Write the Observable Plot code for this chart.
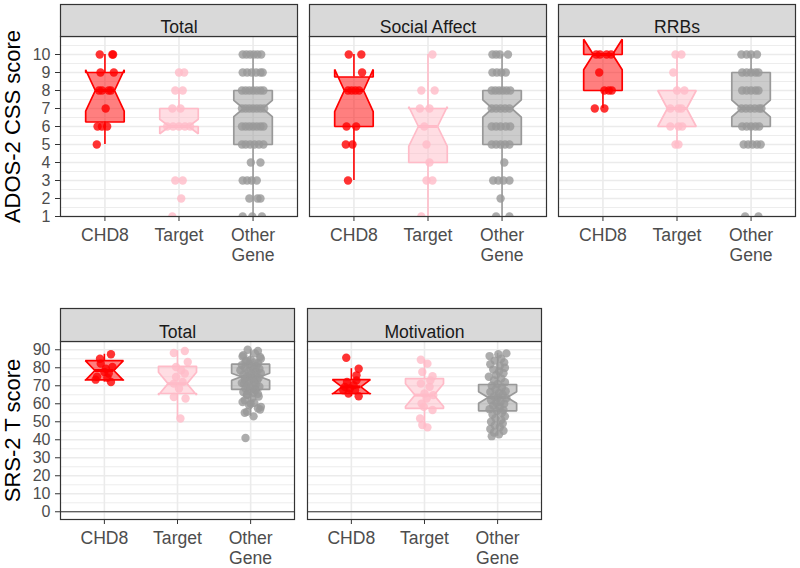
<!DOCTYPE html>
<html>
<head>
<meta charset="utf-8">
<script src="https://cdn.jsdelivr.net/npm/d3@7"></script>
<script src="https://cdn.jsdelivr.net/npm/@observablehq/plot@0.6"></script>
<style>
html,body{margin:0;padding:0;background:#fff;width:800px;height:568px;overflow:hidden;}
#row1{position:absolute;left:0;top:0;}
#row2{position:absolute;left:0;top:290px;}
svg text{font-family:"Liberation Sans",Arial,Helvetica,sans-serif;}
g[aria-label="x-axis tick label"] text, g[aria-label="y-axis tick label"] text{fill:#4D4D4D;}
</style>
</head>
<body>
<div id="row1"></div>
<div id="row2"></div>
<script>
// ---------- categories & colours ----------
const groups = ["CHD8", "Target", "Other Gene"];
const groupLabels = ["CHD8", "Target", "Other\nGene"];
const groupColors = ["#FF0000", "#FFBBC8", "#999999"];

// ---------- ADOS-2 CSS (top row) ----------
const adosPanels = ["Total", "Social Affect", "RRBs"];
const adosTicks = [1, 2, 3, 4, 5, 6, 7, 8, 9, 10];
const adosMinor = [1.5, 2.5, 3.5, 4.5, 5.5, 6.5, 7.5, 8.5, 9.5, 10.5];
// box statistics, order: panel x group
const adosLow   = [5, 6, 1,     3, 1, 1,     7, 5, 5];
const adosQ1    = [6.25, 6, 5,  6, 4, 5,     8, 6, 6];
const adosMed   = [8, 6, 7,     8, 6, 7,     10, 7, 7];
const adosQ3    = [9, 7, 8,     8.75, 7, 8,  10, 8, 9];
const adosHigh  = [10, 8, 10,   10, 10, 10,  10, 10, 10];
const adosNotch = [1.15, 0.4, 0.45,  1.17, 1.1, 0.48,  0.85, 1.0, 0.47];

// points: [score, horizontal jitter in category units]
const adosTotalCHD8 = [[10,-0.07],[10,0.10],[10,0.11],[9,-0.06],[9,0.12],[8,-0.08],[8,-0.04],[8,0.05],[8,0.08],[7,0.01],[6,-0.10],[6,-0.04],[6,0.03],[5,-0.11]];
const adosTotalTarget = [[9,0],[9,0.07],[8,-0.05],[8,0.05],[7,-0.09],[7,0.02],[6,-0.16],[6,-0.08],[6,0],[6,0.08],[6,0.15],[3,-0.05],[3,0.05],[2,0.03],[1,-0.09]];
const adosTotalOther = [
[10,-0.14],[10,-0.09],[10,-0.04],[10,0.01],[10,0.06],[10,0.11],
[9,-0.14],[9,-0.08],[9,-0.02],[9,0.04],[9,0.10],[9,0.13],
[8,-0.15],[8,-0.10],[8,-0.05],[8,0],[8,0.05],[8,0.10],[8,0.14],
[7,-0.15],[7,-0.10],[7,-0.05],[7,0],[7,0.05],[7,0.10],[7,0.15],
[6,-0.15],[6,-0.10],[6,-0.05],[6,0],[6,0.05],[6,0.10],[6,0.14],
[5,-0.15],[5,-0.10],[5,-0.04],[5,0.02],[5,0.08],[5,0.14],
[4,-0.03],[4,0.10],
[3,-0.14],[3,-0.08],[3,-0.02],[3,0.05],
[2,-0.05],[2,0.06],[2,0.10],
[1,-0.14],[1,-0.01],[1,0.12]];
const adosSocialCHD8 = [[10,-0.07],[10,0.10],[9,0.11],[8,-0.08],[8,-0.03],[8,0.02],[8,0.07],[6,-0.10],[6,0.03],[5,-0.11],[5,-0.02],[3,-0.08]];
const adosSocialTarget = [[10,0.06],[8,-0.09],[8,0.09],[7,-0.11],[7,0.02],[6,-0.05],[5,-0.02],[4,0.02],[3,-0.02],[3,0.06],[1,-0.09]];
const adosSocialOther = [
[10,-0.13],[10,-0.08],[10,-0.03],[10,0.08],
[9,-0.13],[9,-0.07],[9,-0.01],[9,0.05],
[8,-0.14],[8,-0.09],[8,-0.04],[8,0.01],[8,0.06],[8,0.11],
[7,-0.14],[7,-0.08],[7,-0.02],[7,0.04],[7,0.10],
[6,-0.14],[6,-0.08],[6,-0.02],[6,0.05],[6,0.11],
[5,-0.14],[5,-0.08],[5,-0.02],[5,0.04],[5,0.10],
[4,0.03],
[3,-0.12],[3,-0.05],[3,0.02],[3,0.10],
[2,-0.02],
[1,-0.08],[1,0.10]];
const adosRRBsCHD8 = [[10,-0.09],[10,-0.04],[10,0.05],[10,0.11],[9,-0.05],[8,0.02],[8,0.08],[8,0.12],[7,-0.11],[7,0.02]];
const adosRRBsTarget = [[10,-0.02],[10,0.06],[9,-0.05],[8,0],[8,0.10],[7,-0.09],[7,0.02],[7,0.06],[6,-0.09],[6,0.02],[6,0.07],[5,-0.02],[5,0.02]];
const adosRRBsOther = [
[10,-0.13],[10,-0.06],[10,0],[10,0.08],
[9,-0.12],[9,-0.06],[9,0],[9,0.06],[9,0.10],
[8,-0.12],[8,-0.06],[8,0],[8,0.06],[8,0.10],
[7,-0.13],[7,-0.07],[7,-0.01],[7,0.05],[7,0.11],[7,0.14],
[6,-0.12],[6,-0.06],[6,0],[6,0.06],[6,0.11],
[5,-0.10],[5,-0.04],[5,0.02],[5,0.08],[5,0.13],
[1,-0.08],[1,0.10]];

// ---------- SRS-2 T (bottom row) ----------
const srsPanels = ["Total", "Motivation"];
const srsTicks = [0, 10, 20, 30, 40, 50, 60, 70, 80, 90];
const srsMinor = [5, 15, 25, 35, 45, 55, 65, 75, 85];
const srsLow   = [72, 52, 53,     64, 47, 42];
const srsQ1    = [73.3, 65.7, 68,  65.7, 57.4, 56.1];
const srsMed   = [78.5, 71.2, 75,  69.4, 64.8, 63.5];
const srsQ3    = [84, 80.8, 82,    73.4, 74, 70.7];
const srsHigh  = [87.5, 89.5, 90,  79.5, 84.5, 88];
const srsNotch = [5.5, 6.3, 2.0,   4.0, 6.3, 3.2];

const srsTotalCHD8 = [[85,-0.06],[87.5,0.09],[75,-0.10],[72.1,0.09],[77.7,0],[73.4,-0.12],[80.4,0.11],[79.5,0.02],[82.3,-0.05],[76.8,0.06],[74.5,0.04]];
const srsTotalTarget = [[88.2,-0.05],[89.3,0.10],[80.4,-0.02],[83.2,0.14],[76.8,0.10],[71.2,-0.05],[68.5,0.02],[72.1,0.07],[63.8,-0.05],[62.9,0.11],[51.8,0.04],[74.9,-0.02],[78.6,0.05]];
const srsTotalOther = [[90,-0.04],[89.3,0.10],[88,0.06],[87,-0.10],[86.3,-0.11],[86,0.13],[85,0.14],[84.5,0],[84,-0.06],[83.2,-0.07],[83,0.05],[82.5,0.10],[82,-0.02],[81.5,-0.12],[81,0.08],[80.5,0.02],[80,-0.08],[79.5,0.12],[79,0.04],[78.6,-0.14],[78,-0.03],[77.5,0.08],[77,0.14],[76.7,0],[76,-0.10],[75.5,0.06],[75,-0.05],[74.5,0.11],[74,0.02],[73.5,-0.08],[73,0.09],[72.5,-0.02],[72,0.05],[71.5,-0.12],[71.2,-0.09],[70.5,0.07],[70,-0.04],[69.5,0.12],[69,0],[68.5,-0.07],[68,0.06],[67.5,0.07],[67,-0.02],[66.5,-0.10],[66,0.04],[65.5,0.10],[65,-0.05],[64.8,-0.05],[64,0.11],[63,0.02],[62,-0.08],[61,-0.11],[60.5,0.05],[60,0],[59.2,-0.02],[58.3,0.14],[57.5,0.10],[56.8,0.13],[55.5,-0.05],[55,-0.08],[53,0.04],[41,-0.07]];
const srsMotivCHD8 = [[85.6,-0.07],[79.5,0.10],[75.8,0.07],[72.1,-0.06],[70.3,0.03],[65.7,-0.04],[64.2,0.10],[67.5,-0.11],[67.5,0.05],[68.5,-0.02],[73,0.07],[69.4,-0.09]];
const srsMotivTarget = [[84.5,-0.05],[82.3,0.04],[77.7,-0.03],[75.3,0.11],[71.2,-0.05],[69.4,0.07],[62.9,0.03],[64.8,0.12],[60.1,-0.04],[56.5,0.11],[51.8,-0.06],[46.9,0.04],[48.2,-0.03],[65.7,0],[73,0.08],[58.3,-0.01]];
const srsMotivOther = [[88,0.12],[87.5,0.01],[86.5,-0.11],[85,0.05],[84,-0.04],[83,0.09],[82,-0.10],[81,0.03],[80,0.10],[79,-0.06],[78,0.02],[77,0.08],[76,-0.02],[75,-0.12],[74,0.05],[73,-0.05],[72,0.10],[71,0],[70,-0.08],[69,0.06],[68,-0.03],[67,0.11],[66.5,-0.10],[66,0.02],[65,0.07],[64,-0.05],[63.5,0],[63,0.12],[62,-0.09],[61,0.04],[60.5,-0.02],[60,0.09],[59,-0.06],[58,0.03],[57,-0.11],[56.5,0.08],[56,-0.01],[55,0.06],[54,-0.07],[53,0.10],[52,-0.03],[51,0.05],[50,-0.09],[49,0.07],[48,-0.04],[47,0.03],[46,-0.10],[45,0.08],[44,-0.05],[43,0.02],[42,-0.08]];

// ---------- helpers ----------
const HW = 0.26; // half box width in category units

function makeBoxes(panels, lo, q1, med, q3, hi, notch) {
  const out = [];
  panels.forEach((p, pi) => groups.forEach((g, gi) => {
    const k = pi * groups.length + gi;
    out.push({panel: p, group: g, gx: gi + 1, lo: lo[k], q1: q1[k], med: med[k], q3: q3[k], hi: hi[k], notch: notch[k]});
  }));
  return out;
}
function notchPolys(boxes) {
  return boxes.flatMap(b => {
    const c = b.gx, w = HW, nl = b.med - b.notch, nh = b.med + b.notch;
    const pts = [[c-w,b.q1],[c-w,nl],[c-w/2,b.med],[c-w,nh],[c-w,b.q3],[c+w,b.q3],[c+w,nh],[c+w/2,b.med],[c+w,nl],[c+w,b.q1]];
    return pts.map(([x, y]) => ({panel: b.panel, group: b.group, key: b.panel + "|" + b.group, x, y}));
  });
}
function makePoints(table) {
  return table.flatMap(([panel, group, arr]) => arr.map(([v, dx]) => ({panel, group, gx: groups.indexOf(group) + 1 + dx, v})));
}

function buildRow(o) {
  const plotH = o.height - o.marginTop - o.marginBottom;
  const boxes = o.boxes;
  const marks = [
    Plot.ruleY(o.minor, {stroke: "#EBEBEB", strokeWidth: 0.9}),
    Plot.ruleY(o.ticks, {stroke: "#EBEBEB", strokeWidth: 1.6}),
    Plot.ruleX([1, 2, 3], {stroke: "#EBEBEB", strokeWidth: 1.6})
  ];
  if (o.zeroLine) marks.push(Plot.ruleY([0], {stroke: "#333333", strokeWidth: 1.2}));
  marks.push(
    Plot.ruleX(boxes, {fx: "panel", x: "gx", y1: "lo", y2: "q1", stroke: "group", strokeWidth: 1.6, clip: true}),
    Plot.ruleX(boxes, {fx: "panel", x: "gx", y1: "q3", y2: "hi", stroke: "group", strokeWidth: 1.6, clip: true}),
    Plot.line(notchPolys(boxes), {fx: "panel", x: "x", y: "y", z: "key", curve: "linear-closed", fill: "group", fillOpacity: 0.5, stroke: "group", strokeWidth: 1.7, strokeLinejoin: "miter", clip: true}),
    Plot.ruleY(boxes, {fx: "panel", y: "med", x1: d => d.gx - HW / 2, x2: d => d.gx + HW / 2, stroke: "group", strokeWidth: 3, clip: true}),
    Plot.dot(o.points, {fx: "panel", x: "gx", y: "v", r: 4.2, fill: "group", fillOpacity: 0.8, stroke: null, clip: true}),
    Plot.frame({stroke: "#333333", strokeWidth: 1.2}),
    Plot.frame({fill: "#D9D9D9", stroke: "#333333", strokeWidth: 1.2, insetTop: -o.stripH, insetBottom: plotH}),
    Plot.text(o.panels, {fx: d => d, text: d => d, frameAnchor: "top", dy: -o.stripH / 2, fontSize: 17.6, fill: "#1A1A1A"}),
    Plot.text([o.yLabel], {fx: () => o.panels[0], text: d => d, frameAnchor: "left", textAnchor: "middle", dx: -56, rotate: -90, lineAnchor: "top", fontSize: 22, fill: "#000000"}),
    Plot.axisY({ticks: o.ticks, tickSize: 5, tickPadding: 5, fontSize: 16, color: "#333333", label: null}),
    Plot.axisX({ticks: [1, 2, 3], tickFormat: i => groupLabels[i - 1], tickSize: 5, tickPadding: 6, fontSize: 17.6, lineHeight: 1.1, color: "#333333", label: null})
  );
  return Plot.plot({
    width: o.width, height: o.height,
    marginLeft: 60, marginRight: o.marginRight, marginTop: o.marginTop, marginBottom: o.marginBottom,
    style: {fontFamily: "Liberation Sans, Arial, sans-serif", background: "transparent", overflow: "visible"},
    x: {domain: [0.4, 3.6]},
    y: {domain: o.yDomain},
    fx: {domain: o.panels, paddingInner: o.paddingInner, paddingOuter: 0, round: false, axis: null},
    color: {domain: groups, range: groupColors},
    marks
  });
}

const adosBoxes = makeBoxes(adosPanels, adosLow, adosQ1, adosMed, adosQ3, adosHigh, adosNotch);
const adosPoints = makePoints([
  ["Total", "CHD8", adosTotalCHD8], ["Total", "Target", adosTotalTarget], ["Total", "Other Gene", adosTotalOther],
  ["Social Affect", "CHD8", adosSocialCHD8], ["Social Affect", "Target", adosSocialTarget], ["Social Affect", "Other Gene", adosSocialOther],
  ["RRBs", "CHD8", adosRRBsCHD8], ["RRBs", "Target", adosRRBsTarget], ["RRBs", "Other Gene", adosRRBsOther]
]);
const srsBoxes = makeBoxes(srsPanels, srsLow, srsQ1, srsMed, srsQ3, srsHigh, srsNotch);
const srsPoints = makePoints([
  ["Total", "CHD8", srsTotalCHD8], ["Total", "Target", srsTotalTarget], ["Total", "Other Gene", srsTotalOther],
  ["Motivation", "CHD8", srsMotivCHD8], ["Motivation", "Target", srsMotivTarget], ["Motivation", "Other Gene", srsMotivOther]
]);

document.getElementById("row1").append(buildRow({
  panels: adosPanels, boxes: adosBoxes, points: adosPoints,
  ticks: adosTicks, minor: adosMinor, yDomain: [1, 11], yLabel: "ADOS-2 CSS score",
  width: 800, height: 282, marginTop: 36, marginBottom: 66, marginRight: 5,
  paddingInner: 0.0482, stripH: 32, zeroLine: false
}));
document.getElementById("row2").append(buildRow({
  panels: srsPanels, boxes: srsBoxes, points: srsPoints,
  ticks: srsTicks, minor: srsMinor, yDomain: [-4.3, 94.6], yLabel: "SRS-2 T score",
  width: 545, height: 278, marginTop: 51, marginBottom: 49, marginRight: 4,
  paddingInner: 0.0526, stripH: 33, zeroLine: true
}));
</script>
</body>
</html>
